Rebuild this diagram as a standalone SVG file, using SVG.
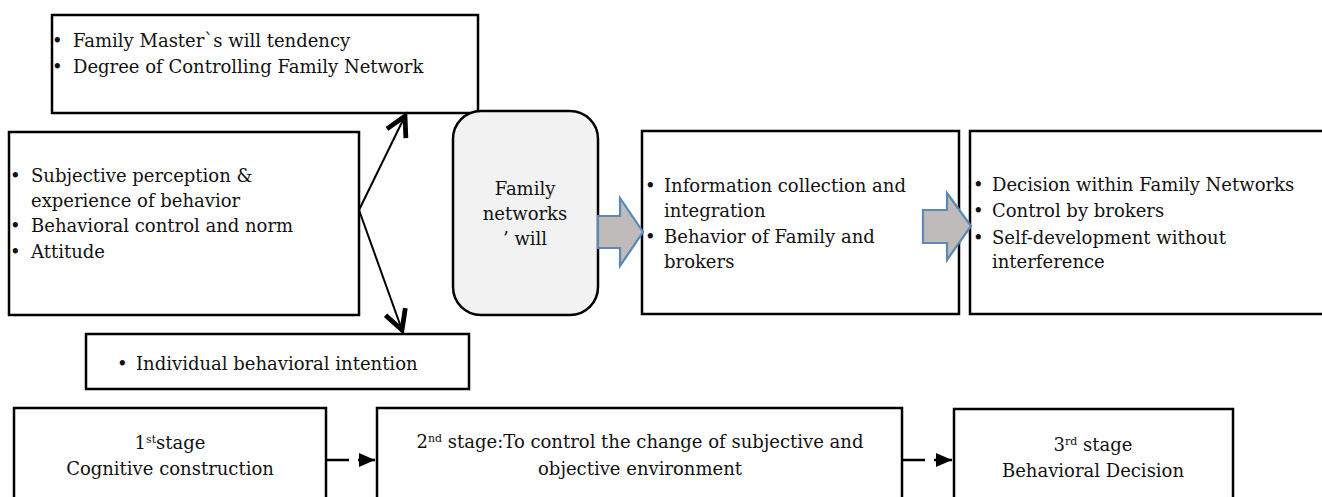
<svg xmlns="http://www.w3.org/2000/svg" width="1322" height="497" viewBox="0 0 1322 497">
<style>
.box{fill:#fff;stroke:#000;stroke-width:2.5}
.rbox{fill:#f2f2f2;stroke:#000;stroke-width:2.5}
.t{font-family:"DejaVu Serif","Liberation Serif",serif;font-size:18px;fill:#111}
.c{text-anchor:middle}
.sup{font-size:11px}
.big{fill:#bfbbbb;stroke:#5b89b3;stroke-width:2.2;stroke-linejoin:miter}
.ln{stroke:#000;stroke-width:2;fill:none}
.dash{stroke:#000;stroke-width:2.5;fill:none;stroke-dasharray:22 9}
</style>
<defs>
<marker id="open" markerUnits="userSpaceOnUse" markerWidth="30" markerHeight="30" refX="0" refY="0" viewBox="-16 -10 20 20" orient="auto" overflow="visible">
<path d="M-13,-7 L0,0 L-13,7" fill="none" stroke="#000" stroke-width="3.2" stroke-linejoin="miter"/>
</marker>
<marker id="tri" markerUnits="userSpaceOnUse" markerWidth="20" markerHeight="20" refX="0" refY="0" viewBox="-18 -8 20 16" orient="auto" overflow="visible">
<path d="M-16,-7 L0,0 L-16,7 Z" fill="#000"/>
</marker>
</defs>

<g id="master">
<rect class="box" x="52" y="15" width="426" height="98"/>
<text class="t" x="52" y="47">•</text><text class="t" x="73" y="47">Family Master`s will tendency</text>
<text class="t" x="52" y="73">•</text><text class="t" x="73" y="73">Degree of Controlling Family Network</text>
</g>

<g id="subjective">
<rect class="box" x="9" y="132" width="350" height="183"/>
<text class="t" x="10" y="182">•</text><text class="t" x="31" y="182">Subjective perception &amp;</text>
<text class="t" x="31" y="207">experience of behavior</text>
<text class="t" x="10" y="232">•</text><text class="t" x="31" y="232">Behavioral control and norm</text>
<text class="t" x="10" y="258">•</text><text class="t" x="31" y="258">Attitude</text>
</g>

<g id="intention">
<rect class="box" x="86" y="334" width="383" height="55"/>
<text class="t" x="117" y="370">•</text><text class="t" x="136" y="370">Individual behavioral intention</text>
</g>

<g id="familywill">
<rect class="rbox" x="453" y="111" width="145" height="204" rx="28" ry="28"/>
<text class="t c" x="525" y="195">Family</text>
<text class="t c" x="525" y="220">networks</text>
<text class="t c" x="525" y="245">’ will</text>
</g>

<g id="info">
<rect class="box" x="642" y="131" width="317" height="183"/>
<text class="t" x="645" y="192">•</text><text class="t" x="664" y="192">Information collection and</text>
<text class="t" x="664" y="217">integration</text>
<text class="t" x="645" y="243">•</text><text class="t" x="664" y="243">Behavior of Family and</text>
<text class="t" x="664" y="268">brokers</text>
</g>

<g id="decision">
<rect class="box" x="970" y="131" width="360" height="183"/>
<text class="t" x="973" y="191">•</text><text class="t" x="992" y="191">Decision within Family Networks</text>
<text class="t" x="973" y="217">•</text><text class="t" x="992" y="217">Control by brokers</text>
<text class="t" x="973" y="244">•</text><text class="t" x="992" y="244">Self-development without</text>
<text class="t" x="992" y="268">interference</text>
</g>

<g id="stage1">
<rect class="box" x="14" y="408" width="312" height="100"/>
<text class="t c" x="170" y="449">1<tspan class="sup" dy="-6">st</tspan><tspan dy="6">stage</tspan></text>
<text class="t c" x="170" y="475">Cognitive construction</text>
</g>

<g id="stage2">
<rect class="box" x="377" y="408" width="525" height="100"/>
<text class="t c" x="640" y="448">2<tspan class="sup" dy="-6">nd</tspan><tspan dy="6"> stage:To control the change of subjective and</tspan></text>
<text class="t c" x="640" y="475">objective environment</text>
</g>

<g id="stage3">
<rect class="box" x="954" y="409" width="279" height="100"/>
<text class="t c" x="1093" y="451">3<tspan class="sup" dy="-6">rd</tspan><tspan dy="6"> stage</tspan></text>
<text class="t c" x="1093" y="477">Behavioral Decision</text>
</g>

<g id="connectors">
<line class="ln" x1="359" y1="210" x2="405" y2="116" marker-end="url(#open)"/>
<line class="ln" x1="359" y1="210" x2="402" y2="330" marker-end="url(#open)"/>
<polygon class="big" points="598,216 620,216 620,198 643,232 620,266 620,248 598,248"/>
<polygon class="big" points="923,210 947,210 947,193 971,226 947,260 947,243 923,243"/>
<line class="dash" x1="327" y1="460" x2="375" y2="460" marker-end="url(#tri)"/>
<line class="dash" x1="903" y1="460" x2="952" y2="460" marker-end="url(#tri)"/>
</g>
</svg>
